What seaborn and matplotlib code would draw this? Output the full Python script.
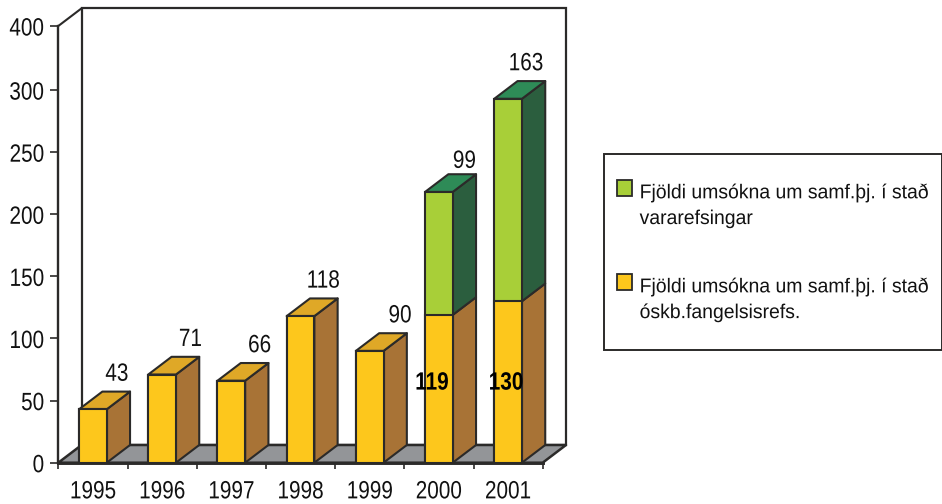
import matplotlib
matplotlib.use("Agg")
import matplotlib.pyplot as plt
from matplotlib.legend_handler import HandlerPatch
from matplotlib.patches import Patch, Polygon, Rectangle
from matplotlib.patheffects import AbstractPathEffect
from matplotlib.transforms import Affine2D
import numpy as np
import pandas as pd
import seaborn as sns

years = ["1995", "1996", "1997", "1998", "1999", "2000", "2001"]
prison = [43, 71, 66, 118, 90, 119, 130]
alternative = [0, 0, 0, 0, 0, 99, 163]
top_labels = ["43", "71", "66", "118", "90", "99", "163"]
inner_labels = ["", "", "", "", "", "119", "130"]
y_ticks = [0, 50, 100, 150, 200, 250, 300, 351.6]
y_tick_labels = ["0", "50", "100", "150", "200", "250", "300", "400"]
legend_labels = ["Fjöldi umsókna um samf.þj. í stað\nvararefsingar",
                 "Fjöldi umsókna um samf.þj. í stað\nóskb.fangelsisrefs."]

YELLOW, YELLOW_TOP, YELLOW_SIDE = "#FDC71C", "#DFA827", "#A87336"
GREEN, GREEN_TOP, GREEN_SIDE = "#A8CF38", "#2E8B57", "#2B5E3E"
FLOOR, INK = "#939598", "#2B2A29"
TEXT = "#111111"
FS = 18

sns.set_theme(style="white")
plt.rcParams["font.family"] = ["Liberation Sans", "DejaVu Sans"]


class Condense(AbstractPathEffect):
    """Narrows the glyphs of a text horizontally, keeping the given side fixed."""

    def __init__(self, sx=0.83, side="center"):
        super().__init__()
        self.sx, self.side = sx, side

    def draw_path(self, renderer, gc, tpath, affine, rgbFace=None):
        box = tpath.get_extents()
        pivot = {"center": (box.x0 + box.x1) / 2, "right": box.x1, "left": box.x0}[self.side]
        squeeze = Affine2D().translate(-pivot, 0).scale(self.sx, 1).translate(pivot, 0)
        renderer.draw_path(gc, tpath, squeeze + affine, rgbFace)


class TopAlignedPatch(HandlerPatch):
    def create_artists(self, legend, orig_handle, xdescent, ydescent, width, height,
                       fontsize, trans):
        p = Rectangle((-xdescent, -ydescent + 0.9 * fontsize), width, height)
        self.update_prop(p, orig_handle, legend)
        p.set_transform(trans)
        return [p]


W, H = 942, 504
fig = plt.figure(figsize=(W / 100, H / 100), dpi=100, facecolor="white")
ax = fig.add_axes([58.3 / W, (H - 462.7) / H, 484.4 / W, 436.7 / H])
ax.patch.set_alpha(0)

total = np.array(prison) + np.array(alternative)
frame = pd.DataFrame({"year": years, "prison": prison, "total": total})
bar_w = 0.4
LW = 1.5
edge = dict(edgecolor=INK, linewidth=LW, saturation=1, width=bar_w, zorder=3)
sns.barplot(data=frame, x="year", y="total", color=GREEN, ax=ax, **edge)
sns.barplot(data=frame, x="year", y="prison", color=YELLOW, ax=ax, **edge)

ax.set_xlim(-0.5, 6.5)
ax.set_ylim(0, y_ticks[-1])
DX = 23.3 / (484.4 / 7)
DY = 17.7 / (436.7 / y_ticks[-1])


def face(points, color, z=2, lw=LW):
    ax.add_patch(Polygon(points, closed=True, facecolor=color, edgecolor=INK,
                         linewidth=lw, zorder=z, clip_on=False, joinstyle="round"))


x0, x1 = ax.get_xlim()
ytop = ax.get_ylim()[1]
# back wall and floor
ax.add_patch(Rectangle((x0 + DX, DY), x1 - x0, ytop, facecolor="white", edgecolor=INK,
                       linewidth=1.6, zorder=0.5, clip_on=False))
ax.plot([x0, x0 + DX], [ytop, ytop + DY], color=INK, lw=1.5, clip_on=False, zorder=1)
face([(x0, 0), (x1, 0), (x1 + DX, DY), (x0 + DX, DY)], FLOOR, z=1, lw=1.8)

INNER_SHIFT = {5: -0.1, 6: -0.03}
LABEL_NUDGE_X = {0: 0, 1: 3, 2: 3, 3: -1, 4: 4.5, 5: 1, 6: -4.5}
for i in range(len(years)):
    l, r = i - bar_w / 2, i + bar_w / 2
    lo, hi = prison[i], total[i]
    face([(r, 0), (r + DX, DY), (r + DX, lo + DY), (r, lo)], YELLOW_SIDE)
    if hi > lo:
        face([(r, lo), (r + DX, lo + DY), (r + DX, hi + DY), (r, hi)], GREEN_SIDE)
        face([(l, hi), (r, hi), (r + DX, hi + DY), (l + DX, hi + DY)], GREEN_TOP)
    else:
        face([(l, hi), (r, hi), (r + DX, hi + DY), (l + DX, hi + DY)], YELLOW_TOP)
    t = ax.annotate(top_labels[i], (r + DX / 2, hi + DY),
                    xytext=(-1 + LABEL_NUDGE_X[i], 1.0 if i == 5 else 4.2),
                    textcoords="offset points", ha="center", va="bottom",
                    fontsize=FS, color=TEXT, zorder=6, annotation_clip=False)
    t.set_path_effects([Condense()])
    if inner_labels[i]:
        t = ax.text(i + INNER_SHIFT[i], 64.5, inner_labels[i], ha="center", va="center",
                    fontsize=FS, fontweight="bold", color="black", zorder=6)
        t.set_path_effects([Condense()])

sns.despine(ax=ax, top=True, right=True)
for s in ("left", "bottom"):
    ax.spines[s].set_color(INK)
    ax.spines[s].set_zorder(4)
ax.spines["bottom"].set_linewidth(2.1)
ax.spines["left"].set_linewidth(1.7)

ax.set_xlabel("")
ax.set_ylabel("")
ax.set_yticks(y_ticks, y_tick_labels)
ax.tick_params(axis="y", length=5.5, width=1.2, color=INK, pad=4.5, labelsize=FS,
               labelcolor=TEXT, left=True)
ax.set_xticks(range(len(years)), years)
ax.tick_params(axis="x", which="major", length=0, pad=12, labelsize=FS, labelcolor=TEXT)
ax.set_xticks(np.arange(len(years) + 1) - 0.5, minor=True)
ax.tick_params(axis="x", which="minor", length=4, width=1.2, color=INK, bottom=True)
for lab in ax.get_xticklabels():
    lab.set_path_effects([Condense()])
for lab in ax.get_yticklabels():
    lab.set_path_effects([Condense(side="right")])

# legend box and legend
fig.add_artist(Rectangle((604 / W, (H - 350) / H), 337.5 / W, 196 / H, transform=fig.transFigure,
                         facecolor="white", edgecolor=INK, linewidth=1.4))
handles = [Patch(facecolor=GREEN, edgecolor=INK, linewidth=1.3),
           Patch(facecolor=YELLOW, edgecolor=INK, linewidth=1.3)]
leg = fig.legend(handles, legend_labels, loc="upper left",
                 bbox_to_anchor=(617 / W, (H - 183) / H), frameon=False, borderpad=0,
                 borderaxespad=0, fontsize=14.4, handlelength=0.74, handleheight=0.8,
                 handletextpad=0.39, labelspacing=2.45, labelcolor=TEXT,
                 handler_map={Patch: TopAlignedPatch()})
for t in leg.get_texts():
    t.set_linespacing(1.45)
    t.set_path_effects([Condense(sx=0.97, side="left")])
leg.set_zorder(10)

fig.savefig("out.png", dpi=100)
